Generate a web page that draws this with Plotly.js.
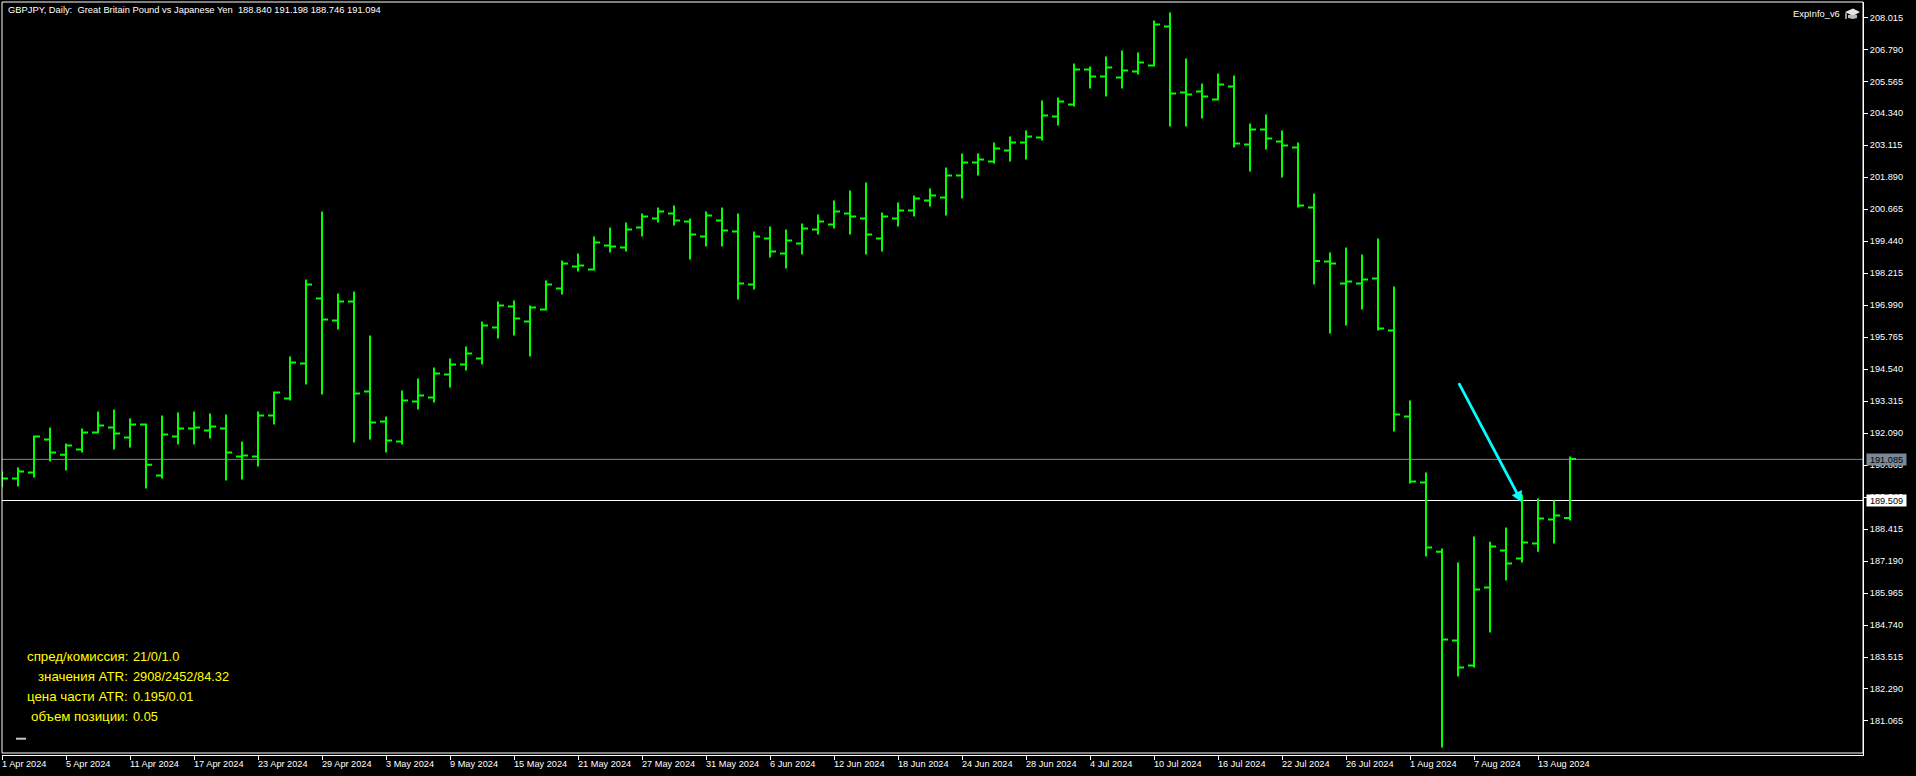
<!DOCTYPE html>
<html>
<head>
<meta charset="utf-8">
<script src="https://cdn.plot.ly/plotly-3.0.1.min.js"></script>
<style>html,body{margin:0;padding:0;background:#000;overflow:hidden}#c{width:1916px;height:776px}</style>
</head>
<body>
<div id="c"></div>
<script>
const dates = ["1 Apr 2024","2 Apr 2024","3 Apr 2024","4 Apr 2024","5 Apr 2024","8 Apr 2024","9 Apr 2024","10 Apr 2024","11 Apr 2024","12 Apr 2024","15 Apr 2024","16 Apr 2024","17 Apr 2024","18 Apr 2024","19 Apr 2024","22 Apr 2024","23 Apr 2024","24 Apr 2024","25 Apr 2024","26 Apr 2024","29 Apr 2024","30 Apr 2024",
"1 May 2024","2 May 2024","3 May 2024","6 May 2024","7 May 2024","8 May 2024","9 May 2024","10 May 2024","13 May 2024","14 May 2024","15 May 2024","16 May 2024","17 May 2024","20 May 2024","21 May 2024","22 May 2024","23 May 2024","24 May 2024","27 May 2024","28 May 2024","29 May 2024","30 May 2024","31 May 2024",
"3 Jun 2024","4 Jun 2024","5 Jun 2024","6 Jun 2024","7 Jun 2024","10 Jun 2024","11 Jun 2024","12 Jun 2024","13 Jun 2024","14 Jun 2024","17 Jun 2024","18 Jun 2024","19 Jun 2024","20 Jun 2024","21 Jun 2024","24 Jun 2024","25 Jun 2024","26 Jun 2024","27 Jun 2024","28 Jun 2024",
"1 Jul 2024","2 Jul 2024","3 Jul 2024","4 Jul 2024","5 Jul 2024","8 Jul 2024","9 Jul 2024","10 Jul 2024","11 Jul 2024","12 Jul 2024","15 Jul 2024","16 Jul 2024","17 Jul 2024","18 Jul 2024","19 Jul 2024","22 Jul 2024","23 Jul 2024","24 Jul 2024","25 Jul 2024","26 Jul 2024","29 Jul 2024","30 Jul 2024","31 Jul 2024",
"1 Aug 2024","2 Aug 2024","5 Aug 2024","6 Aug 2024","7 Aug 2024","8 Aug 2024","9 Aug 2024","12 Aug 2024","13 Aug 2024","14 Aug 2024","15 Aug 2024"];

const opens = [190.30,190.347,190.577,191.841,191.266,191.458,192.109,192.301,191.918,192.415,190.462,191.956,192.262,192.186,192.262,191.19,191.19,192.76,
193.411,194.752,197.241,196.399,197.126,193.679,192.53,191.764,193.296,193.45,194.33,194.713,194.943,196.131,
196.935,196.36,196.82,197.624,198.467,198.352,199.271,199.195,199.961,200.305,200.497,200.19,199.616,200.229,199.807,197.777,199.539,198.965,199.348,199.884,200.075,200.497,200.305,199.539,200.305,200.612,200.995,201.11,
201.952,202.45,202.488,202.91,203.216,203.408,204.212,204.671,206.012,205.744,205.706,205.935,206.165,207.659,205.131,205.169,204.863,205.361,203.139,203.714,203.254,203.025,200.727,198.658,197.816,197.816,198.007,196.016,
192.722,190.194,187.551,184.143,183.185,186.173,187.59,187.283,187.858,188.777,188.84];

const highs = [190.62,190.769,191.994,192.301,191.688,192.262,192.913,192.99,192.645,192.454,192.76,192.875,192.913,192.837,192.798,191.764,192.913,193.679,
195.02,197.969,200.573,197.433,197.509,195.824,192.722,193.718,194.177,194.599,194.943,195.403,196.36,197.126,
197.165,196.973,197.931,198.697,198.965,199.616,199.961,200.152,200.497,200.727,200.803,200.305,200.573,200.727,200.497,199.807,199.999,199.884,200.114,200.458,200.995,201.378,201.684,200.535,200.918,201.186,201.454,202.259,
202.795,202.795,203.216,203.446,203.676,204.825,204.94,206.242,206.127,206.51,206.74,206.663,207.889,208.195,206.433,205.476,205.859,205.782,203.944,204.288,203.676,203.216,201.263,199.003,199.195,198.926,199.539,197.701,
193.335,190.577,187.666,187.13,188.126,187.934,188.471,189.734,189.581,189.505,191.198];

const lows = [190.03,190.041,190.386,190.998,190.654,191.343,192.071,191.458,191.535,189.964,190.347,191.649,191.649,191.879,190.271,190.309,190.807,192.415,
193.335,193.947,193.564,196.054,191.726,191.841,191.343,191.649,192.99,193.258,193.833,194.484,194.713,195.709,
195.824,195.02,196.782,197.394,198.275,198.314,199.003,199.041,199.616,200.152,200.037,198.735,199.233,199.233,197.203,197.586,198.812,198.39,198.926,199.692,199.922,199.692,198.926,199.041,199.999,200.382,200.765,200.42,
201.071,201.952,202.412,202.488,202.565,203.293,203.867,204.595,205.284,204.978,205.284,205.82,206.127,203.829,203.829,204.135,204.825,203.025,202.105,202.948,201.876,200.727,197.777,195.901,196.207,196.82,196.016,192.147,
190.156,187.36,180.045,182.764,183.109,184.449,186.441,187.13,187.551,187.858,188.746];

const closes = [190.347,190.615,191.956,191.343,191.611,192.109,192.377,192.071,192.415,190.883,192.032,192.262,192.301,192.339,191.343,191.228,192.76,193.641,
194.79,197.777,196.437,197.126,193.603,192.492,191.803,193.335,193.526,194.369,194.713,195.135,196.207,196.973,
196.475,196.897,197.777,198.582,198.505,199.386,199.233,199.884,200.382,200.573,200.229,199.692,200.42,199.846,197.816,199.616,199.041,199.463,199.922,200.19,200.573,200.382,199.692,200.382,200.612,201.071,201.186,201.952,
202.45,202.565,202.986,203.216,203.446,204.25,204.786,206.012,205.744,206.089,205.974,206.28,207.735,205.093,205.054,204.978,205.437,203.178,203.714,203.369,203.101,200.803,198.678,198.582,197.892,197.969,196.092,192.798,
190.232,187.705,184.181,183.109,186.096,187.743,187.092,187.896,188.815,188.93,191.094];

const xTickDates = ["1 Apr 2024","5 Apr 2024","11 Apr 2024","17 Apr 2024","23 Apr 2024","29 Apr 2024","3 May 2024","9 May 2024","15 May 2024","21 May 2024","27 May 2024","31 May 2024","6 Jun 2024","12 Jun 2024","18 Jun 2024","24 Jun 2024","28 Jun 2024","4 Jul 2024","10 Jul 2024","16 Jul 2024","22 Jul 2024","26 Jul 2024","1 Aug 2024","7 Aug 2024","13 Aug 2024"];
const yTickValues = [181.065,182.290,183.515,184.740,185.965,187.190,188.415,189.640,190.865,192.090,193.315,194.540,195.765,196.990,198.215,199.440,200.665,201.890,203.115,204.340,205.565,206.790,208.015];
const yTickLabels = ["181.065","182.290","183.515","184.740","185.965","187.190","188.415","189.640","190.865","192.090","193.315","194.540","195.765","196.990","198.215","199.440","200.665","201.890","203.115","204.340","205.565","206.790","208.015"];

const bidLevel = 191.085, grayTag = "191.085";
const markLevel = 189.509, whiteTag = "189.509";
const arrowFrom = {bar:91, price:194.06};
const arrowTo = {bar:95, price:189.428};
const headerText = "GBPJPY, Daily:\u00a0\u00a0Great Britain Pound vs Japanese Yen\u00a0\u00a0188.840 191.198 188.746 191.094";
const infoLabels = ["спред/комиссия:","значения ATR:","цена части ATR:","объем позиции:"];
const infoValues = ["21/0/1.0","2908/2452/84.32","0.195/0.01","0.05"];

const W=1916,H=776,L=2,R=1863,T=2,B=755;
const px = x => (x-L)/(R-L), py = y => (B-y)/(B-T);
const FONT = "Liberation Sans";
const tickFont = {family:FONT,size:9.2,color:"#ffffff"};
const small = {family:FONT,size:9.35,color:"#ffffff"};
const info = {family:FONT,size:12.8,color:"#ffff00"};
const infoLabelFont = {family:FONT,size:13.3,color:"#ffff00"};

const annotations = [
 {xref:"paper",yref:"paper",x:px(5.5),y:py(10),xanchor:"left",yanchor:"middle",text:headerText,showarrow:false,font:small},
 {xref:"paper",yref:"paper",x:px(1841.5),y:py(14),xanchor:"right",yanchor:"middle",text:"ExpInfo_v6",showarrow:false,font:small},
 {xref:"paper",x:px(1866),y:bidLevel,yref:"y",xanchor:"left",yanchor:"middle",text:grayTag,showarrow:false,width:39,height:11,align:"center",borderpad:0,bgcolor:"#778899",font:{family:FONT,size:9.2,color:"#000"}},
 {xref:"paper",x:px(1866),y:markLevel,yref:"y",xanchor:"left",yanchor:"middle",text:whiteTag,showarrow:false,width:39,height:11,align:"center",borderpad:0,bgcolor:"#ffffff",font:{family:FONT,size:9.2,color:"#000"}},
 {xref:"x",yref:"y",x:arrowTo.bar,y:arrowTo.price,axref:"x",ayref:"y",ax:arrowFrom.bar,ay:arrowFrom.price,text:"",showarrow:true,arrowcolor:"#00ffff",arrowwidth:2.8,arrowhead:2,arrowsize:0.8,standoff:0}
];
infoLabels.forEach((t,i)=>{
 const yy=656.5+20*i;
 annotations.push({xref:"paper",yref:"paper",x:px(129.5),y:py(yy),xanchor:"right",yanchor:"middle",text:t,showarrow:false,font:infoLabelFont});
 annotations.push({xref:"paper",yref:"paper",x:px(130.5),y:py(yy),xanchor:"left",yanchor:"middle",text:infoValues[i],showarrow:false,font:info});
});

const cap = [[1845,12],[1853,8.5],[1860,12],[1853,16]];
const capBase = [[1848,15],[1857,15],[1857,18],[1853,19],[1848,18]];
const toPath = a => "M"+a.map(p=>px(p[0]).toFixed(5)+","+py(p[1]).toFixed(5)).join("L")+"Z";

const shapes = [
 {type:"line",xref:"paper",yref:"y",x0:0,x1:1,y0:bidLevel,y1:bidLevel,line:{color:"#778899",width:1},layer:"below"},
 {type:"line",xref:"paper",yref:"y",x0:0,x1:1,y0:markLevel,y1:markLevel,line:{color:"#ffffff",width:1},layer:"below"},
 {type:"rect",xref:"paper",yref:"paper",x0:0,x1:1,y0:py(753),y1:1,line:{color:"#ffffff",width:1},fillcolor:"rgba(0,0,0,0)",layer:"above"},
 {type:"line",xref:"paper",yref:"paper",x0:px(16),x1:px(26),y0:py(738.7),y1:py(738.7),line:{color:"#c8c8c8",width:2},layer:"above"},
 {type:"path",xref:"paper",yref:"paper",path:toPath(cap),fillcolor:"#e4e4e4",line:{width:0},layer:"above"},
 {type:"path",xref:"paper",yref:"paper",path:toPath(capBase),fillcolor:"#b8b8b8",line:{width:0},layer:"above"},
 {type:"line",xref:"paper",yref:"paper",x0:px(1846),x1:px(1846),y0:py(13),y1:py(19),line:{color:"#c0c0c0",width:1.5},layer:"above"}
];

Plotly.newPlot("c",[{
 type:"ohlc",x:dates,open:opens,high:highs,low:lows,close:closes,
 increasing:{line:{color:"#00ff00",width:2}},decreasing:{line:{color:"#00ff00",width:2}},
 tickwidth:0.375,hoverinfo:"skip",showlegend:false
}],{
 width:W,height:H,autosize:false,
 paper_bgcolor:"#000",plot_bgcolor:"#000",
 margin:{l:L,r:W-R,t:T,b:H-B,pad:0},
 showlegend:false,hovermode:false,dragmode:false,
 xaxis:{type:"category",categoryorder:"array",categoryarray:dates,range:[0,(R-L)/16],autorange:false,
  rangeslider:{visible:false},showgrid:false,zeroline:false,showline:true,linecolor:"#fff",linewidth:1,
  ticks:"outside",ticklen:4,tickcolor:"#fff",tickwidth:1,tickmode:"array",tickvals:xTickDates,ticktext:xTickDates,
  ticklabelposition:"outside right",ticklabelshift:-1,tickangle:0,tickfont:tickFont,automargin:false},
 yaxis:{side:"right",range:[179.762,208.601],autorange:false,showgrid:false,zeroline:false,showline:true,linecolor:"#fff",linewidth:1,
  ticks:"outside",ticklen:4,tickcolor:"#fff",tickwidth:1,tickmode:"array",tickvals:yTickValues,ticktext:yTickLabels,tickfont:tickFont,automargin:false},
 annotations,shapes
},{displayModeBar:false,staticPlot:true});
</script>
</body>
</html>
